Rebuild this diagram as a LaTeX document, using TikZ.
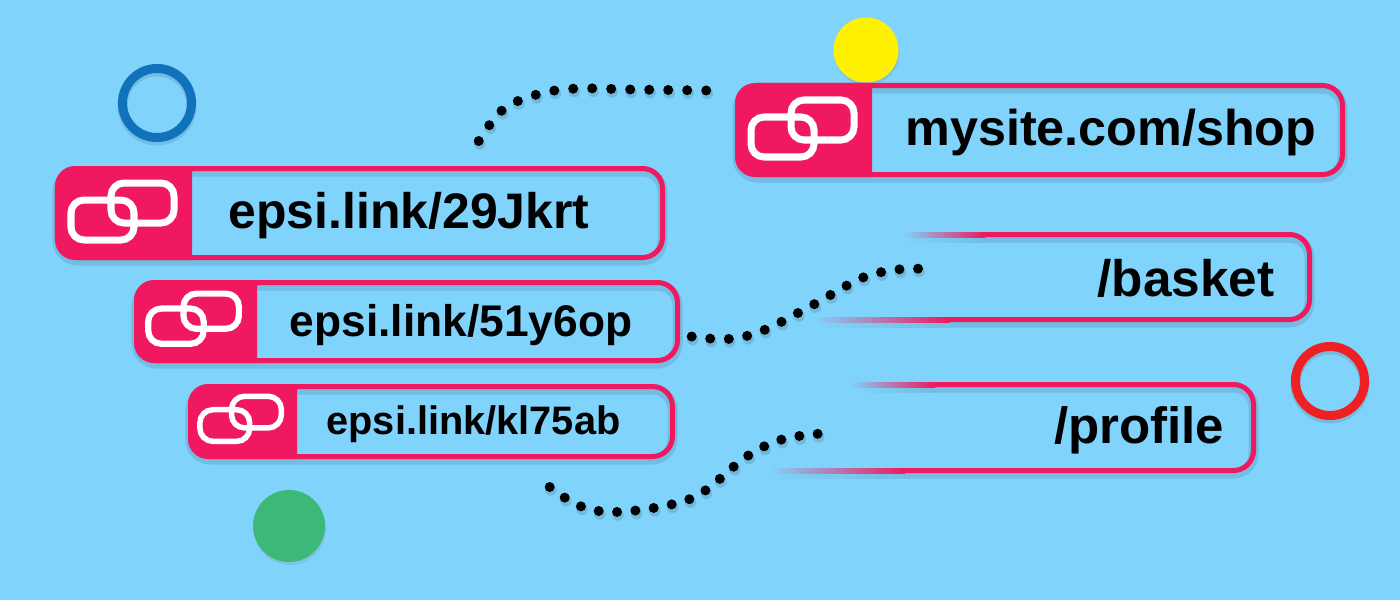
\documentclass[tikz,border=0pt]{standalone}
\usepackage{fontspec}
\setmainfont{Liberation Sans}
\usetikzlibrary{shadows}
\definecolor{skybg}{HTML}{80D3FB}
\definecolor{linkred}{HTML}{F0185F}
\definecolor{ringblue}{HTML}{0F72BA}
\definecolor{ringred}{HTML}{EE2024}
\definecolor{dotyellow}{HTML}{FFF200}
\definecolor{dotgreen}{HTML}{3CB878}
\tikzset{softshadow/.style={preaction={draw=black, opacity=0.1, line width=0.1cm, transform canvas={yshift=-0.03cm}}}}
\tikzset{linkbox/.style={draw=linkred, line width=0.05cm, rounded corners=0.2cm, inner sep=0, softshadow}}
\tikzset{linktext/.style={font=\bfseries\fontsize{#1}{#1}\selectfont, inner sep=0}}
\tikzset{dotline/.style={line width=0.1cm, line cap=round, dash pattern=on 0pt off #1, draw=black, preaction={draw=black, opacity=0.12, line width=0.115cm, line cap=round, dash pattern=on 0pt off #1, transform canvas={xshift=0.01cm, yshift=-0.03cm}}}}
\tikzset{ring/.style={draw=#1, line width=0.09cm, circle, minimum size=0.69cm, inner sep=0, softshadow}}
\tikzset{disc/.style={fill=#1, circle, inner sep=0, drop shadow={opacity=0.2, shadow xshift=0.01cm, shadow yshift=-0.03cm}}}
\tikzset{linkicon/.pic={
    \draw[white, rounded corners=0.13cm] (-52,-13) rectangle (11,27);
    \draw[white, rounded corners=0.13cm] (-12,-30) rectangle (51,10);
}}
\begin{document}
\begin{tikzpicture}[x=0.01cm, y=-0.01cm]
    \fill[skybg] (0,0) rectangle (1400,600);
    \useasboundingbox (0,0) rectangle (1400,600);
    % decoration
    \node[ring=ringblue] (bluering) at (157,103) {};
    \node[ring=ringred] (redring) at (1330,381) {};
    \node[disc=dotyellow, minimum size=0.65cm] (yellowdot) at (866,50) {};
    \node[disc=dotgreen, minimum size=0.72cm] (greendot) at (289,526) {};
    % short links
    \foreach \boxname/\xc/\yc/\boxw/\boxh/\tabw/\iconx/\icony/\iconscale/\iconline in {%
        shopbox/1040/130/605/89/137/803/130/1/0.07,
        jkrtbox/360/213/605/89/137/123/213/1/0.07,
        opbox/407/321.5/541/78/123/194/320/0.88/0.062,
        abbox/431.5/421.5/482/70/109/241/420/0.79/0.055} {
        \node[linkbox, minimum width=\boxw*0.01cm, minimum height=\boxh*0.01cm] (\boxname) at (\xc,\yc) {};
        \fill[linkred, rounded corners=0.2cm] (\boxname.south west) -- (\boxname.north west) [sharp corners] -- ([xshift=\tabw*0.01cm]\boxname.north west) -- ([xshift=\tabw*0.01cm]\boxname.south west) [rounded corners=0.2cm] -- cycle;
        \pic[scale=\iconscale, line width=\iconline cm] at (\iconx,\icony) {linkicon};
    }
    % long link ends
    \foreach \boxname/\xright/\ytop/\ybot/\topfade/\topsolid/\botfade/\botsolid in {%
        basket/1309.5/234.5/319.5/903/985/813/950,
        profile/1253.5/384.5/470.5/850/935/770/905} {
        \coordinate (\boxname top) at (\topsolid,\ytop);
        \coordinate (\boxname bot) at (\botsolid,\ybot);
        \shade[left color=skybg, right color=skybg!90!black] (\topfade,\ytop-2) rectangle (\topsolid,\ytop+8);
        \shade[left color=skybg, right color=skybg!90!black] (\botfade,\ybot-2) rectangle (\botsolid,\ybot+8);
        \draw[linkred, line width=0.05cm, rounded corners=0.2cm, softshadow] (\boxname top) -- (\xright,\ytop) -- (\xright,\ybot) -- (\boxname bot);
        \shade[left color=skybg, right color=linkred] (\topfade,\ytop-2.5) rectangle (\topsolid,\ytop+2.5);
        \shade[left color=skybg, right color=linkred] (\botfade,\ybot-2.5) rectangle (\botsolid,\ybot+2.5);
    }
    % labels
    \node[linktext=14.3pt] (shoptext) at (1111,132) {mysite.com/shop};
    \node[linktext=14.2pt] (jkrttext) at (409,216) {epsi.link/29Jkrt};
    \node[linktext=12.6pt] (optext) at (461,325) {epsi.link/51y6op};
    \node[linktext=11.3pt] (abtext) at (473.5,424) {epsi.link/kl75ab};
    \node[linktext=14.6pt] (baskettext) at (1186,278) {/basket};
    \node[linktext=14.5pt] (profiletext) at (1139,430) {/profile};
    % dotted connectors
    \coordinate (dotsa) at (478.7,141);
    \coordinate (dotsb) at (709,90.5);
    \coordinate (dotsc) at (691.7,336.5);
    \coordinate (dotsd) at (921,269);
    \coordinate (dotse) at (549.7,487);
    \coordinate (dotsf) at (819,433.7);
    \draw[dotline=0.19cm] plot[smooth, tension=0.6] coordinates {(dotsa) (503,109.5) (538.5,94) (577,88.5) (633.5,89.5) (dotsb)};
    \draw[dotline=0.186cm] plot[smooth, tension=0.6] coordinates {(dotsc) (727.7,339) (763,330.5) (812.7,305) (863,277.5) (901.7,269) (dotsd)};
    \draw[dotline=0.184cm] plot[smooth, tension=0.6] coordinates {(dotse) (579.3,505.7) (614.7,512) (669,505) (703,492) (746,457) (781,439.7) (dotsf)};
\end{tikzpicture}
\end{document}
